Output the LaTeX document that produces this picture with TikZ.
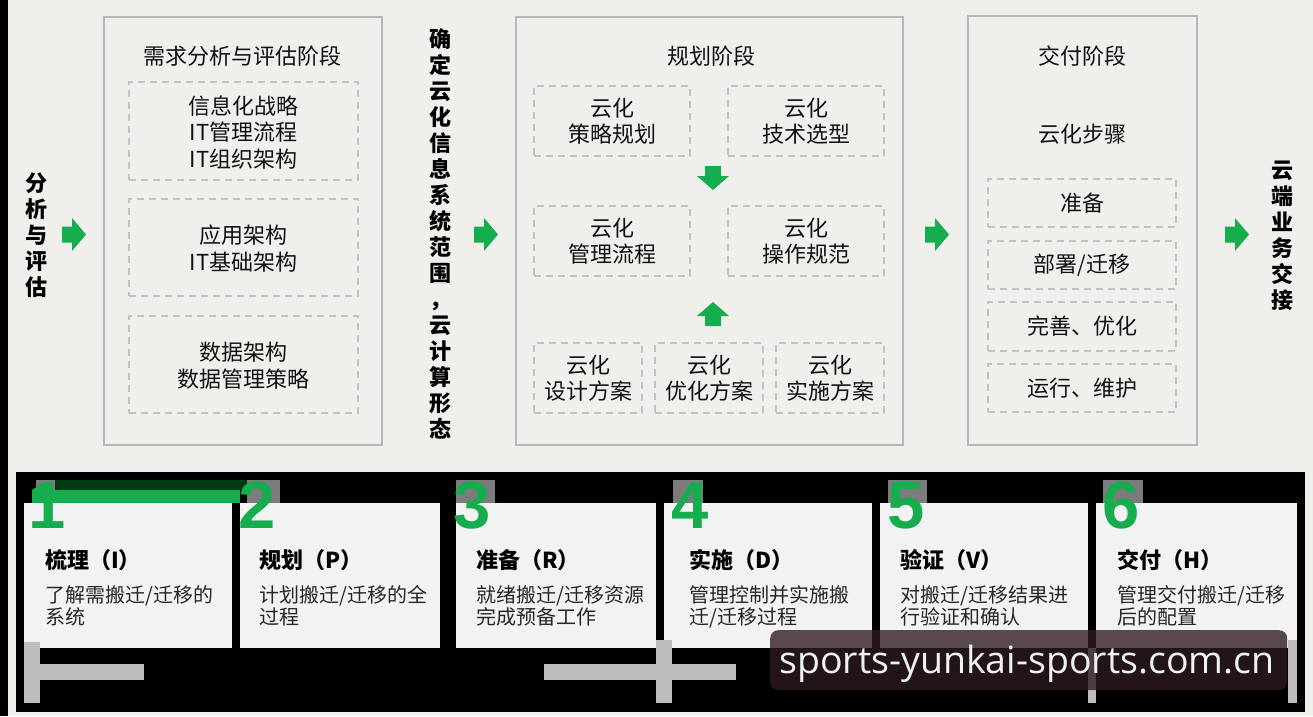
\documentclass[tikz,border=0pt]{standalone}
\usepackage{fontspec}
\setmainfont{Noto Sans CJK SC}
\newfontfamily\numfont{Liberation Sans}
\newfontfamily\wmfont{Open Sans}
\definecolor{bg}{HTML}{F0EFEB}
\definecolor{boxline}{HTML}{B7B7B7}
\definecolor{dashline}{HTML}{C2C2C2}
\definecolor{grn}{HTML}{16AD4E}
\definecolor{dgrn}{HTML}{003A10}
\definecolor{cardfill}{HTML}{F1F2F1}
\definecolor{txt}{HTML}{111111}
\definecolor{desc}{HTML}{262626}
\definecolor{bar}{HTML}{BEBCBE}
\definecolor{gbox}{HTML}{7C7C7C}
\definecolor{wmfill}{HTML}{2D1A24}
\definecolor{wmtext}{HTML}{EEF3F0}
\tikzset{
  stagebox/.style={draw=boxline, line width=1.6pt, inner sep=0pt, outer sep=0pt, anchor=north west},
  dbox/.style={draw=dashline, line width=1.3pt, dash pattern=on 7pt off 5pt, inner sep=0pt, outer sep=0pt,
    anchor=north west, align=center, text=txt, font=\fontsize{22}{26.5}\selectfont},
  ttl/.style={inner sep=0pt, text=txt, font=\fontsize{22}{26}\selectfont},
  vtxt/.style={inner sep=0pt, align=center, text=black, font=\fontsize{22}{26}\selectfont\bfseries},
  card/.style={fill=cardfill, inner sep=0pt, outer sep=0pt, anchor=north west},
  ctitle/.style={inner sep=0pt, anchor=west, text=black, font=\fontsize{22}{26}\selectfont\bfseries},
  cdesc/.style={inner sep=0pt, anchor=north west, align=left, text=desc, font=\fontsize{20}{22}\selectfont},
  digit/.style={inner sep=0pt, anchor=base west, text=grn, font=\numfont\fontsize{67}{67}\selectfont\bfseries},
  rarr/.pic={\fill[grn] (-12,-8) -- (-2,-8) -- (-2,-16.5) -- (12,0) -- (-2,16.5) -- (-2,8) -- (-12,8) -- cycle;},
  darr/.pic={\fill[grn] (-8,-12) -- (8,-12) -- (8,-2) -- (16,-2) -- (0,12) -- (-16,-2) -- (-8,-2) -- cycle;},
  uarr/.pic={\fill[grn] (-8,12) -- (8,12) -- (8,2) -- (16,2) -- (0,-12) -- (-16,2) -- (-8,2) -- cycle;}
}
\begin{document}
\begin{tikzpicture}[x=1pt,y=-1pt]
\useasboundingbox (0,0) rectangle (1313,716);
\fill[bg] (0,0) rectangle (1313,716);
\fill[black] (0,0) rectangle (8,716);

% ---- left label and arrows
\node[vtxt] (lab1) at (36,235.5) {分\\析\\与\\评\\估};
\pic at (74,234.5) {rarr};

% ---- stage 1
\node[stagebox, minimum width=278, minimum height=428] (s1) at (104,17) {};
\node[ttl] (s1t) at (242,56) {需求分析与评估阶段};
\node[dbox, minimum width=229, minimum height=98] (d11) at (129,82) {\rule{0pt}{21pt}信息化战略\\IT管理流程\\IT组织架构};
\node[dbox, minimum width=229, minimum height=97] (d12) at (129,199) {\rule{0pt}{21pt}应用架构\\IT基础架构};
\node[dbox, minimum width=229, minimum height=97] (d13) at (129,316) {\rule{0pt}{21pt}数据架构\\数据管理策略};

\node[vtxt] (lab2) at (440,234) {确\\定\\云\\化\\信\\息\\系\\统\\范\\围\\，\\云\\计\\算\\形\\态};
\pic at (486,234.5) {rarr};

% ---- stage 2
\node[stagebox, minimum width=387, minimum height=428] (s2) at (516,17) {};
\node[ttl] (s2t) at (711,56) {规划阶段};
\node[dbox, minimum width=156, minimum height=70] (d21) at (534,86) {云化\\策略规划};
\node[dbox, minimum width=156, minimum height=70] (d22) at (728,86) {云化\\技术选型};
\node[dbox, minimum width=156, minimum height=70] (d23) at (534,206) {云化\\管理流程};
\node[dbox, minimum width=156, minimum height=70] (d24) at (728,206) {云化\\操作规范};
\node[dbox, minimum width=108, minimum height=70] (d25) at (534,343) {云化\\设计方案};
\node[dbox, minimum width=108, minimum height=70] (d26) at (655,343) {云化\\优化方案};
\node[dbox, minimum width=108, minimum height=70] (d27) at (776,343) {云化\\实施方案};
\pic at (713,178) {darr};
\pic at (713,314) {uarr};

\pic at (937,234.5) {rarr};

% ---- stage 3
\node[stagebox, minimum width=229, minimum height=429] (s3) at (968,16) {};
\node[ttl] (s3t) at (1082,56) {交付阶段};
\node[ttl] (s3s) at (1082,134) {云化步骤};
\node[dbox, minimum width=188, minimum height=48] (d31) at (988,179) {准备};
\node[dbox, minimum width=188, minimum height=48] (d32) at (988,241) {部署/迁移};
\node[dbox, minimum width=188, minimum height=49] (d33) at (988,302) {完善、优化};
\node[dbox, minimum width=188, minimum height=48] (d34) at (988,364) {运行、维护};

\pic at (1237,234.5) {rarr};
\node[vtxt] (lab3) at (1282,235.5) {云\\端\\业\\务\\交\\接};

% ---- bottom strip
\fill[black] (16,472) rectangle (1305,712);
\node[card, minimum width=208, minimum height=145] (c1) at (24,503) {};
\node[card, minimum width=200, minimum height=145] (c2) at (240,503) {};
\node[card, minimum width=200, minimum height=145] (c3) at (456,503) {};
\node[card, minimum width=208, minimum height=145] (c4) at (664,503) {};
\node[card, minimum width=208, minimum height=145] (c5) at (880,503) {};
\node[card, minimum width=201, minimum height=145] (c6) at (1096,503) {};

% gray patches behind the digits
\fill[gbox] (36,480) rectangle (55,503);
\fill[gbox] (247,480) rectangle (280,503);
\fill[gbox] (456,480) rectangle (495,503);
\fill[gbox] (673,480) rectangle (703,503);
\fill[gbox] (888,480) rectangle (927,503);
\fill[gbox] (1103,480) rectangle (1143,503);
% green band
\fill[dgrn] (55,480) rectangle (247,490);
\fill[grn] (32,490) rectangle (240,503);

\node[digit] (n1) at (28,528) {1};
\node[digit] (n2) at (238,528) {2};
\node[digit] (n3) at (453,528) {3};
\node[digit] (n4) at (671,528) {4};
\node[digit] (n5) at (887,528) {5};
\node[digit] (n6) at (1102,528) {6};

\node[ctitle] (t1) at (45,560) {梳理（I）};
\node[ctitle] (t2) at (259,560) {规划（P）};
\node[ctitle] (t3) at (476,560) {准备（R）};
\node[ctitle] (t4) at (689,560) {实施（D）};
\node[ctitle] (t5) at (900,560) {验证（V）};
\node[ctitle] (t6) at (1117,560) {交付（H）};

\node[cdesc] (e1) at (45,585) {了解需搬迁/迁移的\\系统};
\node[cdesc] (e2) at (259,585) {计划搬迁/迁移的全\\过程};
\node[cdesc] (e3) at (476,585) {就绪搬迁/迁移资源\\完成预备工作};
\node[cdesc] (e4) at (689,585) {管理控制并实施搬\\迁/迁移过程};
\node[cdesc] (e5) at (900,585) {对搬迁/迁移结果进\\行验证和确认};
\node[cdesc] (e6) at (1117,585) {管理交付搬迁/迁移\\后的配置};

% gray bars
\fill[bar] (24,642) rectangle (40,703);
\fill[bar] (40,664) rectangle (144,680);
\fill[bar] (544,664) rectangle (736,680);
\fill[bar] (656,640) rectangle (672,703);
\fill[bar] (1088,648) rectangle (1096,703);
\fill[bar] (1288,640) rectangle (1297,703);

% watermark
\node[fill=wmfill, fill opacity=0.78, rounded corners=8pt, inner sep=0pt, anchor=north west,
      minimum width=517, minimum height=60] (wm) at (770,630) {};
\node[inner sep=0pt, anchor=base west, text=wmtext, font=\wmfont\fontsize{37.5}{40}\selectfont] (wmt) at (779,673) {sports-yunkai-sports.com.cn};
\end{tikzpicture}
\end{document}
